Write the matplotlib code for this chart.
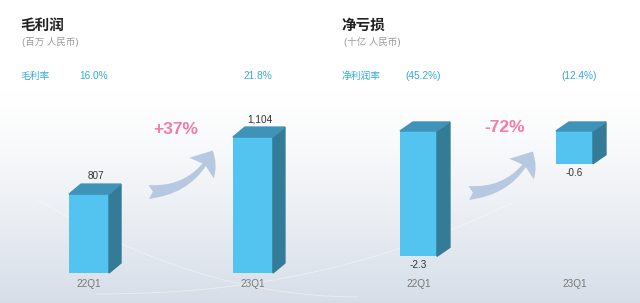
import numpy as np
import matplotlib
matplotlib.use('Agg')
import matplotlib.pyplot as plt
from matplotlib.patches import Polygon, FancyArrowPatch

plt.rcParams['font.family'] = ['Liberation Sans', 'Noto Sans CJK SC', 'DejaVu Sans']

# data
quarters = ['22Q1', '23Q1']
gross_profit = [807, 1104]          # 百万 人民币
gross_margin = ['16.0%', '21.8%']
gross_change = '+37%'
net_loss = [-2.3, -0.6]             # 十亿 人民币
net_margin = ['(45.2%)', '(12.4%)']
net_change = '-72%'

W, H = 640, 303
FRONT = '#53c3f0'
SIDE = '#347b97'
TOP = '#3f92b8'
BLUE = '#35a8dc'
PINK = '#f57bab'
ARROW = '#b6c9e1'


def px(x, y):
    return (x / W, 1 - y / H)


fig = plt.figure(figsize=(W / 100, H / 100), dpi=100)

# background gradient + faint swooshes
bg = fig.add_axes([0, 0, 1, 1])
g = np.linspace(0, 1, 200)[:, None]
grad = np.clip((g - 0.3) / 0.7, 0, 1) ** 1.3
col_top = np.array([1.0, 1.0, 1.0])
col_bot = np.array([0.84, 0.87, 0.91])
img = col_top + (col_bot - col_top) * grad[..., None]
img = np.repeat(img, 2, axis=1)
bg.imshow(img, aspect='auto', extent=[0, 1, 0, 1], origin='upper')
t = np.linspace(0, 1, 100)
bg.plot(0.06 + 0.5 * t, 0.32 * (1 - t) ** 2 + 0.02, color='white', lw=0.6, alpha=0.45)
bg.plot(0.15 + 0.65 * t, 0.03 + 0.3 * t ** 2.2, color='white', lw=0.6, alpha=0.45)
bg.set_xlim(0, 1)
bg.set_ylim(0, 1)
bg.set_axis_off()


def make_axes(x0, x1, y0, y1):
    l, b = px(x0, y1)
    r, t = px(x1, y0)
    ax = fig.add_axes([l, b, r - l, t - b])
    ax.patch.set_alpha(0)
    for s in ax.spines.values():
        s.set_visible(False)
    ax.set_yticks([])
    ax.tick_params(axis='x', length=0, pad=4.5, labelsize=7.2, labelcolor='#777777')
    return ax


def bars3d(ax, x, vals, bottom, width, ddx=12, ddy=10):
    fig.canvas.draw()
    inv = ax.transData.inverted()
    o = inv.transform((0, 0))
    d = inv.transform((ddx, ddy)) - o
    dx, dy = d
    hv = [v - bottom for v in vals]
    ax.bar(x, hv, bottom=bottom, width=width, color=FRONT, zorder=3, clip_on=False)
    for xi, v in zip(x, vals):
        lo, hi = min(v, bottom), max(v, bottom)
        xr = xi + width / 2
        xl = xi - width / 2
        ax.add_patch(Polygon([(xr, lo), (xr + dx, lo + dy), (xr + dx, hi + dy), (xr, hi)],
                             closed=True, color=SIDE, zorder=3, clip_on=False))
        ax.add_patch(Polygon([(xl, hi), (xl + dx, hi + dy), (xr + dx, hi + dy), (xr, hi)],
                             closed=True, color=TOP, zorder=3, clip_on=False))


x = np.arange(len(quarters))

# left panel: gross profit
ax1 = make_axes(20, 320, 100, 273)
base1 = 396
ax1.set_xlim(-0.421, 1.409)
ax1.set_ylim(base1, 1297)
w1 = 40 / 164
bars3d(ax1, x, gross_profit, base1, w1)
ax1.set_xticks(x)
ax1.set_xticklabels(quarters)
for xi, v in zip(x, gross_profit):
    ax1.annotate(f'{v:,}', (xi, v), xytext=(7, 18), textcoords='offset pixels',
                 ha='center', va='center', fontsize=7.2, color='#333333')

# right panel: net loss
ax2 = make_axes(330, 640, 100, 273)
ax2.set_xlim(-0.567, 1.420)
ax2.set_ylim(-2.606, 0.569)
w2 = 37 / 156
bars3d(ax2, x, net_loss, 0, w2, ddx=13, ddy=9)
ax2.set_xticks(x)
ax2.set_xticklabels(quarters)
for xi, v in zip(x, net_loss):
    ax2.annotate(f'{v:.1f}', (xi, v), xytext=(0, -9), textcoords='offset pixels',
                 ha='center', va='center', fontsize=7.2, color='#333333')

# headers
for x0, title, unit, label, ax, rates in [
        (20, '毛利润', '(百万 人民币)', '毛利率', ax1, gross_margin),
        (342, '净亏损', '(十亿 人民币)', '净利润率', ax2, net_margin)]:
    fig.text(*px(x0, 25), title, fontsize=10.5, fontweight='bold', color='#222222',
             va='center', ha='left', family=['Noto Sans CJK SC'])
    fig.text(*px(x0 + 2, 42), unit, fontsize=6.8, color='#9a9a9a',
             va='center', ha='left')
    fig.text(*px(x0, 76), label, fontsize=7, color=BLUE, va='center', ha='left')
    for xi, r in zip(x, rates):
        ax.annotate(r, (xi, 0), xycoords=('data', 'figure fraction'),
                    xytext=(5, H - 76), textcoords='offset pixels',
                    ha='center', va='center', fontsize=7.3, color=BLUE)

# growth arrows
for (sx, sy), (ex, ey), (tx, ty), txt in [
        ((146, 192), (214, 148), (176, 130), gross_change),
        ((466, 193), (534, 149), (505, 127), net_change)]:
    arr = FancyArrowPatch(px(sx, sy), px(ex, ey), transform=fig.transFigure,
                          connectionstyle='arc3,rad=0.32',
                          arrowstyle='fancy,head_length=1.5,head_width=2.3,tail_width=1.0',
                          mutation_scale=10, color=ARROW, lw=0)
    fig.add_artist(arr)
    fig.text(*px(tx, ty), txt, fontsize=12.5, fontweight='bold', color=PINK,
             ha='center', va='center')

fig.savefig('out.png', dpi=100)
